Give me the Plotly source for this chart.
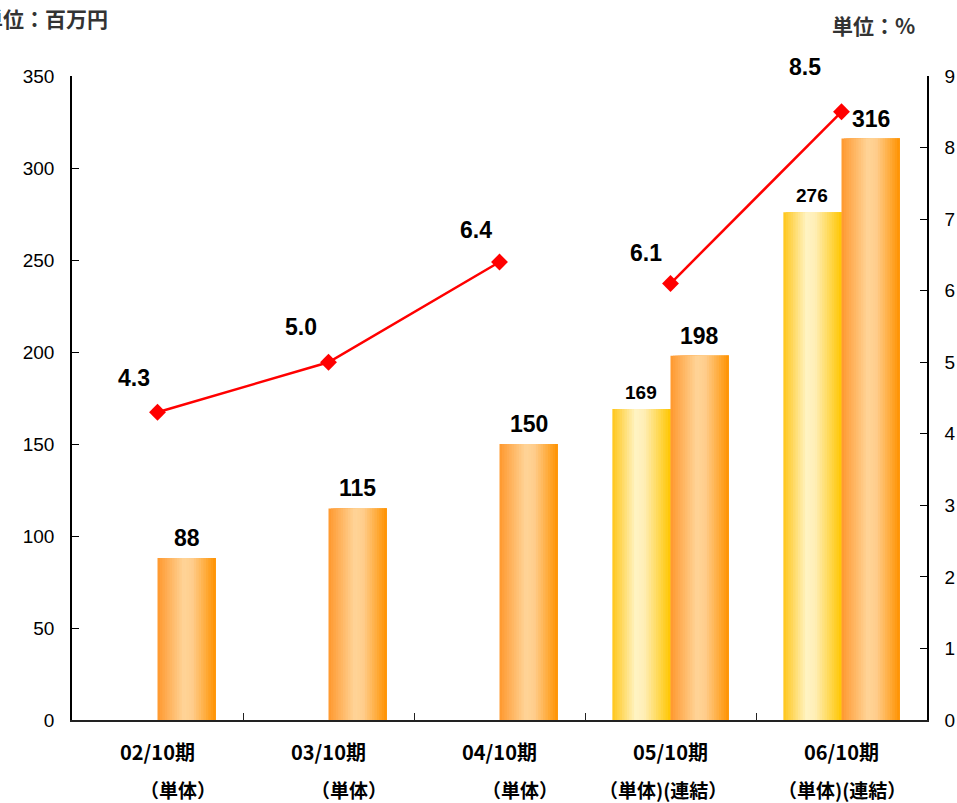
import plotly.graph_objects as go

# ---- data ----
categories = ["02/10期", "03/10期", "04/10期", "05/10期", "06/10期"]
sublabels = ["（単体）", "（単体）", "（単体）", "（単体)(連結）", "（単体)(連結）"]
main_values = [88, 115, 150, 198, 316]          # orange bars (left axis, 百万円)
single_values = [None, None, None, 169, 276]     # yellow bars (単体)
ratio_single = [4.3, 5.0, 6.4, None, None]       # red line, 単体 period (right axis, %)
ratio_consol = [None, None, None, 6.1, 8.5]      # red line, 連結 period (right axis, %)
ratio_labels = ["4.3", "5.0", "6.4", "6.1", "8.5"]
left_ticks = [0, 50, 100, 150, 200, 250, 300, 350]
right_ticks = [0, 1, 2, 3, 4, 5, 6, 7, 8, 9]

# ---- styling ----
W, H = 957, 803
L, R, T, B = 72, 30, 76, 83
BAR_W = 0.34
N_STRIPS = 24
orange_stops = [(0.0, (255, 152, 45)), (0.45, (255, 212, 152)), (0.6, (255, 205, 140)), (1.0, (255, 146, 0))]
yellow_stops = [(0.0, (255, 198, 25)), (0.4, (255, 243, 196)), (0.55, (255, 238, 182)), (1.0, (255, 198, 0))]
FONT_NUM = "Liberation Sans, Arial, sans-serif"
FONT_JP = "Noto Sans CJK JP, sans-serif"

def interp(stops, t):
    for (p0, c0), (p1, c1) in zip(stops[:-1], stops[1:]):
        if p0 <= t <= p1:
            f = (t - p0) / (p1 - p0) if p1 > p0 else 0
            c = [round(a + (b - a) * f) for a, b in zip(c0, c1)]
            return f"rgb({c[0]},{c[1]},{c[2]})"
    c = stops[-1][1]
    return f"rgb({c[0]},{c[1]},{c[2]})"

idx = list(range(len(categories)))
fig = go.Figure()

def add_gradient_bar(values, base_offset, stops):
    s = BAR_W / N_STRIPS
    for k in range(N_STRIPS):
        t = (k + 0.5) / N_STRIPS
        fig.add_trace(go.Bar(
            x=idx, y=values, offset=base_offset + k * s, width=BAR_W - k * s,
            marker=dict(color=interp(stops, t), line=dict(width=0)),
            hoverinfo="skip", showlegend=False,
        ))

add_gradient_bar(single_values, -BAR_W, yellow_stops)
add_gradient_bar(main_values, 0.0, orange_stops)

for series in (ratio_single, ratio_consol):
    fig.add_trace(go.Scatter(
        x=idx, y=series, yaxis="y2", mode="lines+markers", connectgaps=False,
        line=dict(color="#FF0000", width=2.5),
        marker=dict(symbol="diamond", size=13, color="#FF0000"),
        showlegend=False,
    ))

ratio_values = [a if a is not None else b for a, b in zip(ratio_single, ratio_consol)]

annotations = []
# bar value labels
for i, v in enumerate(main_values):
    annotations.append(dict(x=i + BAR_W / 2, y=v, xref="x", yref="y", text=str(v),
                            showarrow=False, yanchor="bottom", yshift=5,
                            font=dict(family=FONT_NUM, size=23, color="#000", weight="bold")))
for i, v in enumerate(single_values):
    if v is not None:
        annotations.append(dict(x=i - BAR_W / 2, y=v, xref="x", yref="y", text=str(v),
                                showarrow=False, yanchor="bottom", yshift=4,
                                font=dict(family=FONT_NUM, size=19, color="#000", weight="bold")))
# ratio labels
ratio_shift = [(-24, 34), (-28, 35), (-24, 32), (-25, 31), (-37, 45)]
for i, (v, lab) in enumerate(zip(ratio_values, ratio_labels)):
    dx, dy = ratio_shift[i]
    annotations.append(dict(x=i, y=v, xref="x", yref="y2", text=lab, showarrow=False,
                            xshift=dx, yshift=dy,
                            font=dict(family=FONT_NUM, size=23, color="#000", weight="bold")))
# category labels (two rows)
for i, (c, s) in enumerate(zip(categories, sublabels)):
    annotations.append(dict(x=i, y=0, xref="x", yref="paper", text=c, showarrow=False,
                            yanchor="middle", yshift=-31,
                            font=dict(family=FONT_JP, size=20, color="#000", weight="bold")))
    annotations.append(dict(x=i, y=0, xref="x", yref="paper", text=s, showarrow=False,
                            yanchor="middle", yshift=-69, xshift=(20 if i < 3 else -8 if i == 3 else 0),
                            font=dict(family=FONT_JP, size=19, color="#000", weight="bold")))
# unit titles
plot_w = W - L - R
plot_h = H - T - B
annotations.append(dict(x=(110 - L) / plot_w, y=1 + (T - 18) / plot_h, xref="paper", yref="paper",
                        text="単位：百万円", showarrow=False, xanchor="right", yanchor="middle",
                        font=dict(family=FONT_JP, size=21, color="#333", weight="bold")))
annotations.append(dict(x=(873 - L) / plot_w, y=1 + (T - 25) / plot_h, xref="paper", yref="paper",
                        text="単位：%", showarrow=False, xanchor="center", yanchor="middle",
                        font=dict(family=FONT_JP, size=21, color="#333", weight="bold")))

fig.update_layout(
    width=W, height=H,
    margin=dict(l=L, r=R, t=T, b=B, autoexpand=False),
    paper_bgcolor="white", plot_bgcolor="white",
    barmode="overlay", showlegend=False,
    xaxis=dict(range=[-0.5, len(categories) - 0.5], tickvals=[i + 0.5 for i in idx[:-1]],
               ticktext=[""] * (len(idx) - 1), ticks="inside", ticklen=7, tickcolor="#222",
               showline=True, linecolor="#222", linewidth=2, showgrid=False, zeroline=False,
               automargin=False, fixedrange=True),
    yaxis=dict(range=[0, 350], tickvals=left_ticks, ticks="inside", ticklen=7, tickcolor="#000",
               showline=True, linecolor="#000", linewidth=1.5, showgrid=False, zeroline=False,
               ticklabelstandoff=12, automargin=False,
               tickfont=dict(family=FONT_NUM, size=19, color="#000")),
    yaxis2=dict(range=[0, 9], tickvals=right_ticks, overlaying="y", side="right",
                ticks="inside", ticklen=7, tickcolor="#000",
                showline=True, linecolor="#000", linewidth=1.5, showgrid=False, zeroline=False,
                ticklabelstandoff=12, automargin=False,
                tickfont=dict(family=FONT_NUM, size=19, color="#000")),
    annotations=annotations,
)

fig.write_html("out.html")
